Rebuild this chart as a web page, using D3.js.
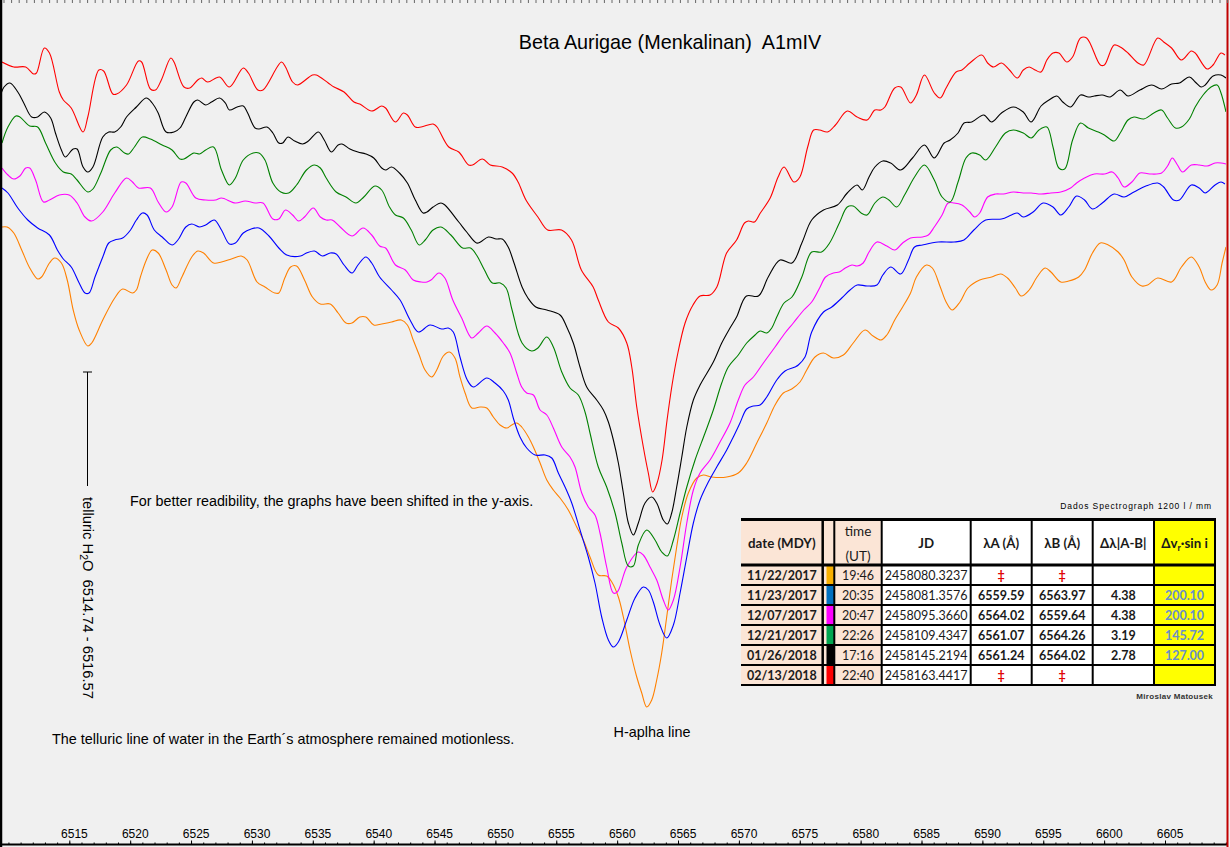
<!DOCTYPE html>
<html><head><meta charset="utf-8">
<script src="https://cdn.jsdelivr.net/npm/d3@7"></script>
<style>body{margin:0;background:#f0f0f0;overflow:hidden}svg{display:block}</style>
</head><body>
<svg id="chart" width="1230" height="847"></svg>
<script>
// ---- spectra: [wavelength (Å), relative flux (shifted)] ----
const s20180213 = [[6509.47,.838],[6510.44,.833],[6511.42,.833],[6512.07,.826],[6512.30,.827],[6512.95,.852],[6513.37,.847],[6514.18,.808],[6514.51,.800],[6515.16,.792],[6516.13,.768],[6516.52,.783],[6517.43,.830],[6517.82,.829],[6518.57,.806],[6518.89,.806],[6519.70,.815],[6520.68,.839],[6520.94,.838],[6521.66,.811],[6522.08,.810],[6522.56,.820],[6523.34,.842],[6523.60,.838],[6524.42,.813],[6524.90,.812],[6525.55,.820],[6525.88,.822],[6526.36,.818],[6527.34,.823],[6528.15,.813],[6529.29,.832],[6529.71,.827],[6530.49,.810],[6530.91,.810],[6532.43,.838],[6532.76,.833],[6533.34,.818],[6533.74,.815],[6534.97,.825],[6535.29,.825],[6536.27,.817],[6536.75,.813],[6537.57,.808],[6538.38,.798],[6538.86,.796],[6539.84,.789],[6540.66,.794],[6540.98,.792],[6541.79,.778],[6542.44,.787],[6542.77,.785],[6543.42,.773],[6543.90,.773],[6544.88,.776],[6545.20,.773],[6546.17,.753],[6546.99,.748],[6547.80,.735],[6548.12,.735],[6548.93,.741],[6549.58,.735],[6550.56,.733],[6551.37,.727],[6551.86,.718],[6552.51,.700],[6553.49,.683],[6554.29,.670],[6555.43,.670],[6556.25,.660],[6557.06,.630],[6558.03,.613],[6558.45,.600],[6559.28,.578],[6560.10,.572],[6560.79,.557],[6561.20,.533],[6561.61,.493],[6562.15,.453],[6562.56,.427],[6562.92,.408],[6563.28,.417],[6563.69,.440],[6564.10,.480],[6564.51,.515],[6564.92,.543],[6565.58,.577],[6566.23,.595],[6566.81,.604],[6567.63,.605],[6568.19,.613],[6568.99,.647],[6569.81,.660],[6570.46,.677],[6570.78,.679],[6571.27,.678],[6571.76,.687],[6572.57,.702],[6573.22,.723],[6573.71,.733],[6574.52,.718],[6575.01,.723],[6575.65,.753],[6576.14,.770],[6576.63,.770],[6577.28,.768],[6577.93,.775],[6578.90,.789],[6579.71,.783],[6580.53,.780],[6581.17,.790],[6581.67,.790],[6581.99,.793],[6582.80,.812],[6583.29,.813],[6584.10,.797],[6584.58,.805],[6585.24,.825],[6586.05,.807],[6586.54,.802],[6587.02,.812],[6587.84,.828],[6588.32,.830],[6588.97,.837],[6589.95,.845],[6590.43,.837],[6590.92,.833],[6591.57,.837],[6592.22,.830],[6592.87,.822],[6593.36,.830],[6593.84,.833],[6594.33,.830],[6594.82,.828],[6595.30,.840],[6595.80,.847],[6596.28,.847],[6596.93,.838],[6597.41,.843],[6598.06,.862],[6598.56,.862],[6599.69,.835],[6600.02,.835],[6600.82,.855],[6601.32,.853],[6601.96,.847],[6602.78,.837],[6603.26,.835],[6604.40,.862],[6604.89,.858],[6605.54,.852],[6606.35,.840],[6607.16,.849],[6607.48,.847],[6608.46,.831],[6608.95,.835],[6609.60,.847],[6609.92,.845]];

const s20180126 = [[6509.31,.803],[6509.64,.813],[6510.12,.817],[6510.77,.808],[6511.26,.797],[6511.91,.783],[6512.40,.783],[6512.95,.788],[6513.47,.782],[6513.86,.767],[6514.35,.750],[6514.67,.743],[6515.32,.751],[6515.64,.751],[6516.13,.733],[6516.52,.728],[6516.94,.733],[6517.75,.763],[6518.24,.768],[6518.73,.768],[6519.22,.773],[6519.70,.783],[6520.51,.793],[6521.33,.802],[6521.81,.797],[6522.30,.787],[6522.95,.768],[6523.60,.768],[6524.09,.772],[6524.57,.783],[6525.23,.798],[6525.55,.800],[6526.20,.795],[6526.68,.798],[6527.34,.802],[6527.82,.797],[6528.15,.790],[6528.79,.793],[6529.29,.794],[6529.61,.788],[6530.26,.772],[6530.58,.771],[6531.23,.773],[6531.72,.767],[6532.21,.757],[6532.53,.757],[6532.96,.763],[6533.51,.759],[6534.16,.756],[6534.64,.759],[6535.46,.768],[6535.94,.760],[6536.53,.748],[6537.08,.755],[6537.40,.756],[6538.05,.751],[6538.71,.748],[6539.36,.746],[6540.01,.742],[6540.66,.732],[6540.98,.730],[6541.47,.733],[6542.12,.727],[6542.77,.717],[6543.42,.700],[6544.06,.687],[6544.38,.688],[6544.88,.693],[6545.53,.697],[6545.85,.695],[6546.99,.678],[6547.64,.668],[6548.45,.657],[6548.77,.658],[6549.42,.663],[6550.07,.661],[6550.56,.661],[6551.05,.653],[6551.53,.637],[6552.19,.613],[6552.67,.602],[6553.32,.593],[6554.22,.590],[6555.31,.585],[6555.86,.573],[6556.40,.557],[6556.95,.533],[6557.50,.513],[6558.32,.500],[6558.87,.490],[6559.28,.478],[6559.69,.460],[6560.10,.437],[6560.51,.407],[6560.92,.377],[6561.33,.365],[6561.74,.377],[6562.29,.397],[6562.84,.403],[6563.25,.397],[6563.79,.380],[6564.12,.376],[6564.48,.387],[6564.89,.413],[6565.31,.443],[6565.72,.473],[6566.26,.500],[6566.81,.515],[6567.90,.538],[6568.59,.557],[6569.27,.572],[6569.81,.583],[6570.62,.604],[6571.60,.604],[6572.41,.623],[6573.38,.640],[6574.36,.637],[6575.17,.657],[6575.98,.680],[6576.95,.690],[6578.09,.695],[6578.90,.707],[6579.71,.715],[6580.14,.710],[6580.69,.723],[6581.17,.733],[6581.82,.739],[6582.47,.737],[6583.29,.730],[6584.26,.742],[6585.24,.755],[6586.05,.742],[6586.86,.757],[6587.35,.760],[6588.00,.767],[6588.49,.777],[6589.13,.778],[6590.11,.785],[6590.76,.778],[6591.57,.787],[6592.54,.793],[6593.36,.788],[6594.01,.778],[6594.82,.794],[6595.47,.800],[6596.12,.804],[6596.60,.798],[6597.25,.793],[6598.06,.805],[6598.71,.803],[6599.20,.804],[6599.85,.805],[6600.50,.803],[6601.32,.810],[6601.96,.804],[6602.94,.810],[6603.91,.815],[6604.72,.811],[6605.54,.816],[6606.19,.817],[6607.00,.823],[6607.48,.818],[6607.97,.813],[6608.30,.815],[6608.95,.824],[6609.60,.825],[6610.01,.822]];

const s20171221 = [[6509.47,.757],[6509.96,.773],[6510.61,.784],[6510.94,.783],[6511.75,.774],[6512.40,.773],[6513.05,.757],[6513.86,.737],[6514.51,.728],[6515.16,.726],[6515.64,.720],[6516.52,.708],[6516.94,.711],[6517.59,.727],[6518.40,.750],[6518.89,.753],[6519.54,.747],[6519.87,.746],[6520.35,.753],[6521.00,.763],[6521.66,.761],[6522.63,.755],[6523.44,.750],[6524.09,.741],[6524.42,.741],[6525.23,.747],[6525.71,.746],[6526.20,.750],[6526.85,.753],[6527.50,.730],[6528.15,.715],[6528.64,.722],[6529.29,.740],[6530.10,.747],[6530.58,.747],[6531.07,.740],[6531.72,.717],[6532.37,.708],[6533.02,.707],[6533.67,.715],[6534.48,.730],[6535.14,.735],[6535.62,.732],[6536.10,.722],[6536.92,.708],[6537.73,.703],[6538.54,.697],[6539.19,.703],[6540.10,.714],[6540.66,.710],[6541.30,.693],[6541.79,.685],[6542.44,.682],[6543.09,.670],[6543.74,.655],[6544.23,.660],[6544.88,.670],[6545.53,.673],[6546.34,.665],[6547.31,.652],[6547.96,.652],[6548.45,.645],[6549.10,.630],[6549.75,.617],[6550.40,.617],[6550.88,.612],[6551.37,.590],[6552.19,.557],[6552.98,.549],[6553.49,.552],[6554.22,.563],[6554.76,.553],[6555.45,.528],[6556.13,.512],[6556.81,.505],[6557.36,.488],[6557.77,.467],[6558.45,.433],[6559.14,.413],[6559.83,.387],[6560.38,.357],[6560.92,.334],[6561.33,.334],[6561.74,.355],[6562.43,.370],[6563.11,.360],[6563.66,.348],[6564.12,.344],[6564.62,.360],[6565.17,.387],[6565.72,.413],[6566.40,.440],[6567.22,.467],[6567.90,.490],[6568.59,.517],[6569.13,.533],[6569.95,.545],[6570.64,.557],[6571.33,.565],[6571.74,.569],[6572.29,.567],[6572.70,.572],[6573.11,.583],[6573.71,.597],[6574.36,.603],[6575.17,.623],[6575.98,.648],[6576.79,.648],[6577.45,.657],[6578.25,.677],[6578.90,.693],[6579.39,.694],[6580.04,.687],[6580.53,.685],[6581.17,.697],[6581.82,.703],[6582.32,.700],[6582.97,.693],[6583.61,.705],[6584.43,.723],[6585.24,.735],[6586.05,.720],[6586.69,.703],[6587.35,.698],[6588.00,.718],[6588.65,.742],[6589.13,.747],[6589.78,.745],[6590.27,.740],[6591.08,.753],[6591.89,.767],[6592.54,.770],[6593.36,.767],[6594.01,.762],[6594.65,.770],[6595.30,.773],[6595.80,.753],[6596.28,.732],[6596.76,.731],[6597.41,.760],[6598.06,.777],[6598.71,.772],[6599.52,.768],[6600.02,.765],[6600.82,.759],[6601.32,.767],[6601.96,.780],[6602.45,.783],[6603.26,.781],[6604.08,.787],[6604.72,.790],[6605.21,.782],[6605.86,.772],[6606.35,.773],[6607.00,.781],[6607.48,.793],[6608.13,.805],[6608.78,.813],[6609.28,.815],[6609.60,.807],[6610.01,.788]];

const s20171207 = [[6509.47,.732],[6509.96,.725],[6510.44,.721],[6510.94,.724],[6511.42,.732],[6511.75,.732],[6512.23,.720],[6512.88,.698],[6513.37,.700],[6514.18,.705],[6514.99,.705],[6515.64,.697],[6516.29,.683],[6516.84,.679],[6517.75,.688],[6518.73,.707],[6519.70,.722],[6520.19,.718],[6520.68,.712],[6521.66,.712],[6522.30,.698],[6522.95,.688],[6523.44,.693],[6524.19,.718],[6524.57,.717],[6525.39,.702],[6526.20,.700],[6527.01,.700],[6527.50,.702],[6528.64,.697],[6529.45,.699],[6530.26,.697],[6530.91,.697],[6531.72,.681],[6532.21,.681],[6532.76,.690],[6533.34,.685],[6533.83,.679],[6534.32,.683],[6535.04,.692],[6535.62,.683],[6536.10,.680],[6536.59,.680],[6537.25,.673],[6538.22,.664],[6539.13,.672],[6539.84,.665],[6540.49,.654],[6540.98,.652],[6541.79,.635],[6542.60,.630],[6543.25,.620],[6543.90,.618],[6544.38,.618],[6544.71,.620],[6545.36,.627],[6545.85,.622],[6546.50,.600],[6547.23,.582],[6548.06,.562],[6548.60,.567],[6549.29,.574],[6549.97,.567],[6550.65,.557],[6551.20,.547],[6551.75,.527],[6552.16,.513],[6552.57,.507],[6553.12,.505],[6553.67,.490],[6554.22,.485],[6554.76,.472],[6555.45,.453],[6556.13,.443],[6556.54,.433],[6557.09,.407],[6557.63,.393],[6558.18,.385],[6558.59,.367],[6559.14,.333],[6559.69,.307],[6560.01,.308],[6560.79,.333],[6561.74,.348],[6562.15,.345],[6562.70,.333],[6563.25,.320],[6563.79,.300],[6564.20,.290],[6564.62,.300],[6565.17,.333],[6565.72,.377],[6566.26,.410],[6566.81,.427],[6567.63,.440],[6568.45,.458],[6569.27,.477],[6569.95,.500],[6570.50,.515],[6571.19,.523],[6572.01,.537],[6572.97,.553],[6573.79,.567],[6574.47,.577],[6575.33,.590],[6575.98,.598],[6576.63,.612],[6577.12,.623],[6577.77,.627],[6578.25,.628],[6578.74,.632],[6579.29,.635],[6579.71,.634],[6580.21,.637],[6580.69,.648],[6581.34,.658],[6582.15,.654],[6582.80,.650],[6583.45,.657],[6584.10,.662],[6585.08,.663],[6585.56,.665],[6586.05,.673],[6586.69,.685],[6587.19,.697],[6587.67,.697],[6588.32,.695],[6588.97,.688],[6589.36,.683],[6589.78,.687],[6590.43,.703],[6591.08,.706],[6591.73,.706],[6592.54,.708],[6593.36,.707],[6594.01,.707],[6594.82,.706],[6595.63,.707],[6596.44,.708],[6597.25,.712],[6597.74,.717],[6598.39,.722],[6599.20,.726],[6600.02,.726],[6600.67,.728],[6601.15,.722],[6601.64,.713],[6602.28,.718],[6602.94,.727],[6603.75,.726],[6604.72,.727],[6605.21,.734],[6605.60,.742],[6606.02,.735],[6606.45,.728],[6607.16,.735],[6607.81,.735],[6608.46,.734],[6609.11,.737],[6609.60,.737],[6610.01,.736]];

const s20171123 = [[6509.47,.712],[6509.96,.707],[6510.77,.692],[6511.59,.680],[6512.40,.672],[6513.37,.665],[6514.02,.650],[6514.51,.641],[6515.16,.633],[6515.81,.617],[6516.29,.607],[6516.62,.607],[6517.11,.623],[6517.75,.643],[6518.24,.657],[6518.73,.660],[6519.38,.662],[6520.03,.670],[6520.51,.680],[6521.00,.687],[6521.39,.685],[6521.98,.670],[6522.63,.663],[6523.44,.655],[6523.92,.660],[6524.57,.673],[6525.06,.676],[6525.71,.673],[6526.20,.675],[6526.91,.680],[6527.50,.670],[6528.15,.656],[6528.64,.657],[6529.29,.667],[6529.94,.671],[6530.58,.672],[6531.40,.664],[6532.21,.652],[6532.86,.645],[6533.99,.644],[6534.48,.647],[6535.14,.649],[6535.78,.644],[6536.43,.647],[6536.92,.646],[6537.57,.635],[6538.22,.627],[6538.71,.635],[6539.36,.643],[6539.84,.637],[6540.49,.623],[6541.47,.610],[6542.17,.600],[6542.99,.580],[6543.67,.568],[6544.63,.575],[6545.59,.571],[6546.13,.572],[6546.54,.568],[6547.09,.543],[6547.69,.520],[6548.19,.513],[6549.29,.522],[6549.97,.517],[6550.65,.509],[6551.06,.500],[6551.47,.482],[6552.02,.463],[6552.57,.452],[6553.26,.445],[6554.08,.445],[6554.63,.442],[6555.17,.427],[6555.72,.413],[6556.27,.397],[6556.95,.370],[6557.63,.343],[6558.18,.317],[6558.73,.283],[6559.28,.260],[6559.69,.253],[6560.10,.258],[6560.79,.280],[6561.47,.302],[6562.15,.313],[6562.56,.310],[6562.97,.298],[6563.52,.275],[6564.07,.262],[6564.62,.275],[6565.17,.307],[6565.72,.343],[6566.26,.377],[6566.81,.400],[6567.49,.418],[6568.18,.433],[6569.00,.450],[6569.54,.463],[6570.09,.477],[6570.64,.491],[6571.19,.494],[6571.74,.495],[6572.29,.503],[6573.11,.520],[6573.79,.529],[6574.61,.533],[6574.88,.535],[6575.43,.543],[6575.98,.568],[6576.95,.588],[6577.63,.593],[6578.45,.602],[6579.13,.610],[6579.71,.615],[6580.53,.614],[6581.34,.615],[6581.82,.625],[6582.47,.633],[6583.29,.626],[6583.93,.640],[6584.43,.653],[6585.08,.655],[6586.37,.658],[6587.67,.658],[6588.49,.660],[6589.30,.670],[6590.27,.680],[6591.57,.681],[6592.39,.685],[6592.87,.687],[6593.36,.683],[6594.17,.688],[6594.98,.697],[6595.80,.693],[6596.44,.685],[6597.09,.693],[6597.74,.704],[6598.39,.700],[6599.04,.691],[6599.85,.697],[6600.82,.706],[6601.64,.703],[6602.45,.708],[6603.43,.714],[6604.40,.717],[6604.89,.713],[6605.70,.700],[6606.19,.700],[6607.16,.715],[6607.81,.712],[6608.30,.707],[6609.11,.715],[6609.60,.718],[6609.92,.716]];

const s20171122 = [[6509.47,.673],[6509.89,.673],[6510.44,.667],[6511.09,.650],[6511.75,.632],[6512.40,.621],[6512.72,.623],[6513.37,.637],[6513.80,.642],[6514.35,.637],[6514.83,.620],[6515.32,.590],[6515.81,.570],[6516.52,.554],[6516.84,.557],[6517.75,.580],[6518.73,.602],[6519.38,.611],[6520.19,.607],[6520.51,.610],[6520.84,.623],[6521.33,.640],[6521.81,.650],[6522.30,.647],[6522.95,.630],[6523.44,.615],[6523.77,.612],[6524.25,.623],[6525.06,.643],[6525.55,.649],[6526.03,.647],[6526.85,.637],[6527.50,.638],[6528.31,.641],[6529.12,.644],[6529.61,.640],[6530.42,.618],[6531.07,.613],[6531.88,.607],[6532.21,.607],[6532.70,.622],[6533.18,.633],[6533.67,.634],[6534.32,.620],[6534.97,.603],[6535.62,.596],[6536.43,.596],[6537.08,.587],[6537.73,.577],[6538.22,.577],[6538.86,.583],[6539.36,.583],[6540.01,.575],[6540.66,.576],[6541.47,.578],[6542.27,.580],[6542.77,.575],[6543.25,.560],[6543.74,.545],[6544.22,.530],[6544.77,.523],[6545.18,.530],[6545.72,.544],[6546.22,.548],[6546.68,.542],[6547.09,.523],[6547.51,.507],[6548.06,.492],[6548.74,.493],[6549.29,.492],[6549.83,.483],[6550.38,.475],[6550.93,.472],[6551.34,.475],[6551.75,.477],[6552.16,.473],[6552.71,.463],[6553.12,.453],[6553.67,.437],[6554.22,.420],[6554.76,.410],[6555.31,.402],[6555.99,.390],[6556.68,.373],[6557.22,.360],[6557.77,.343],[6558.45,.325],[6559.14,.324],[6559.56,.318],[6560.10,.303],[6560.51,.283],[6561.06,.250],[6561.61,.223],[6562.02,.207],[6562.43,.193],[6562.84,.200],[6563.25,.220],[6563.66,.247],[6564.07,.283],[6564.48,.320],[6564.89,.353],[6565.31,.383],[6565.85,.407],[6566.54,.422],[6567.08,.425],[6567.77,.423],[6569.00,.423],[6569.95,.427],[6570.64,.437],[6571.47,.457],[6572.29,.477],[6572.97,.495],[6573.65,.507],[6574.34,.511],[6575.02,.518],[6575.57,.530],[6576.25,.543],[6576.95,.547],[6577.77,.542],[6578.58,.545],[6579.39,.557],[6580.36,.570],[6581.02,.564],[6581.67,.560],[6582.15,.565],[6582.80,.580],[6583.45,.593],[6584.10,.607],[6584.58,.623],[6585.40,.635],[6585.89,.632],[6586.54,.613],[6587.02,.598],[6587.51,.590],[6588.16,.598],[6588.81,.612],[6589.78,.620],[6590.76,.623],[6591.51,.626],[6592.06,.622],[6592.71,.612],[6593.19,.604],[6593.84,.610],[6594.49,.623],[6595.15,.632],[6595.63,.628],[6596.44,.618],[6597.09,.619],[6597.91,.623],[6598.39,.630],[6599.04,.647],[6599.69,.657],[6600.34,.655],[6601.15,.648],[6601.64,.640],[6602.28,.623],[6603.10,.614],[6603.58,.615],[6604.40,.622],[6605.54,.618],[6606.35,.633],[6607.16,.643],[6607.81,.633],[6608.30,.618],[6608.78,.610],[6609.28,.615],[6609.69,.637],[6610.01,.653]];

// ---- drawing order & colours ----
const seriesData = [s20171122, s20171123, s20171207, s20171221, s20180126, s20180213];
const seriesColors = ["#ff8000", "#0000ff", "#ff00ff", "#008000", "#000000", "#ff0000"];

// ---- axis ticks ----
const majorTicks = [6515,6520,6525,6530,6535,6540,6545,6550,6555,6560,6565,6570,6575,6580,6585,6590,6595,6600,6605];
const minorTicks = d3.range(6509, 6611, 1);

// ---- table ----
const tDates = ["11/22/2017","11/23/2017","12/07/2017","12/21/2017","01/26/2018","02/13/2018"];
const tSwatch = ["#f8b000","#0070c0","#ff00ff","#00a650","#000000","#ff0000"];
const tTimes = ["19:46","20:35","20:47","22:26","17:16","22:40"];
const tJD = ["2458080.3237","2458081.3576","2458095.3660","2458109.4347","2458145.2194","2458163.4417"];
const tLamA = ["‡","6559.59","6564.02","6561.07","6561.24","‡"];
const tLamB = ["‡","6563.97","6559.64","6564.26","6564.02","‡"];
const tDLam = ["","4.38","4.38","3.19","2.78",""];
const tDV = ["","200.10","200.10","145.72","127.00",""];

const svg = d3.select("#chart");
const W = 1230, H = 847;
svg.append("rect").attr("width", W).attr("height", H).attr("fill", "#f0f0f0");

const x = d3.scaleLinear().domain([6515, 6605]).range([69.3, 1165]);
const y = d3.scaleLinear().domain([0, 0.9]).range([900, 0]);

svg.append("defs").append("clipPath").attr("id","plotclip")
  .append("rect").attr("x", 2).attr("y", 0).attr("width", 1224).attr("height", H);

const line = d3.line().x(d => x(d[0])).y(d => y(d[1])).curve(d3.curveCatmullRom.alpha(0.5));
svg.append("g").attr("clip-path","url(#plotclip)")
  .selectAll("path").data(seriesData).join("path")
  .attr("d", line).attr("fill","none")
  .attr("stroke", (d,i) => seriesColors[i]).attr("stroke-width", 1.1);

// bottom axis
const axisY = 844.5;
svg.append("g").attr("transform", `translate(0,${axisY})`)
  .call(d3.axisTop(x).tickValues(minorTicks).tickSize(2).tickFormat("").tickSizeOuter(0))
  .call(g => g.select(".domain").remove())
  .call(g => g.selectAll("line").attr("stroke","#000"));
const ax = svg.append("g").attr("transform", `translate(0,${axisY})`)
  .call(d3.axisTop(x).tickValues(majorTicks).tickSize(4).tickPadding(2.5).tickFormat(d3.format("d")).tickSizeOuter(0));
ax.select(".domain").remove();
ax.selectAll("line").attr("stroke","#000");
ax.selectAll("text").attr("dx", 4.6).attr("font-family","'Liberation Sans', Arial, sans-serif")
  .attr("font-size", 12).attr("fill","#000");
svg.append("line").attr("x1",0).attr("x2",1228).attr("y1",axisY).attr("y2",axisY)
  .attr("stroke","#000").attr("stroke-width",2);

// frame
svg.append("line").attr("x1",1).attr("x2",1).attr("y1",0).attr("y2",H).attr("stroke","#000").attr("stroke-width",2.5);
svg.append("line").attr("x1",1227.5).attr("x2",1227.5).attr("y1",0).attr("y2",H).attr("stroke","#c00000").attr("stroke-width",2);
svg.append("g").selectAll("line").data(d3.range(0, 1226, 7.6)).join("line")
  .attr("x1", d => d + 4).attr("x2", d => d + 4).attr("y1", 0).attr("y2", 3)
  .attr("stroke","#666").attr("stroke-width",1);

// texts
const sans = "'Liberation Sans', Arial, sans-serif";
svg.append("text").attr("x", 670).attr("y", 49).attr("text-anchor","middle")
  .attr("font-family", sans).attr("font-size", 19.8).attr("fill","#000")
  .attr("xml:space","preserve").text("Beta Aurigae (Menkalinan)  A1mIV");
svg.append("text").attr("x", 130).attr("y", 506).attr("font-family", sans).attr("font-size", 14.35)
  .attr("fill","#000").text("For better readibility, the graphs have been shifted in the y-axis.");
svg.append("text").attr("x", 52).attr("y", 744).attr("font-family", sans).attr("font-size", 14.4)
  .attr("fill","#000").text("The telluric line of water in the Earth´s atmosphere remained motionless.");
svg.append("text").attr("x", 652).attr("y", 737).attr("text-anchor","middle").attr("font-family", sans)
  .attr("font-size", 14.4).attr("fill","#000").text("H-aplha line");

// telluric marker
svg.append("line").attr("x1",87.5).attr("x2",87.5).attr("y1",372).attr("y2",486).attr("stroke","#000").attr("stroke-width",1);
svg.append("line").attr("x1",83).attr("x2",92).attr("y1",372).attr("y2",372).attr("stroke","#000").attr("stroke-width",1);
const vt = svg.append("text").attr("transform","translate(83,497) rotate(90)")
  .attr("font-family", sans).attr("font-size", 14.7).attr("fill","#000").attr("xml:space","preserve");
vt.append("tspan").text("telluric H");
vt.append("tspan").attr("font-size", 10.5).attr("dy", 3).text("2");
vt.append("tspan").attr("dy", -3).text("O  6514.74 - 6516.57");

// table
const colX = [741, 822.7, 834.3, 881.7, 970.7, 1031.7, 1092.7, 1154, 1215];
const headTop = 519.5, headBot = 565, rowH = 20;
const peach = "#fbe5d6", yellow = "#ffff00", white = "#ffffff";
const colFill = [peach, peach, peach, white, white, white, white, yellow];
const tg = svg.append("g");
const nRows = tDates.length;
const tableBot = headBot + nRows*rowH;
tg.selectAll("rect.col").data(colFill).join("rect")
  .attr("x", (d,i) => colX[i]).attr("y", headTop).attr("width", (d,i) => colX[i+1]-colX[i])
  .attr("height", tableBot - headTop).attr("fill", d => d);
// swatches
tg.selectAll("rect.sw").data(tSwatch).join("rect")
  .attr("x", 826.5).attr("y", (d,i) => headBot + i*rowH + 1).attr("width", 7.8).attr("height", rowH - 1)
  .attr("fill", d => d);
// horizontal lines
const hl = [headTop, headBot].concat(d3.range(1, nRows+1).map(i => headBot + i*rowH));
tg.selectAll("line.h").data(hl).join("line")
  .attr("x1", colX[0]).attr("x2", colX[colX.length-1]+1).attr("y1", d => d).attr("y2", d => d)
  .attr("stroke","#000").attr("stroke-width", (d,i) => i < 2 ? 3 : 2);
// vertical lines
tg.selectAll("line.v").data(colX.slice(1)).join("line")
  .attr("x1", d => d).attr("x2", d => d).attr("y1", headTop).attr("y2", tableBot)
  .attr("stroke","#000").attr("stroke-width", (d,i) => i === 0 ? 2.5 : 2);

const tfont = "Lato, 'Open Sans', sans-serif";
const cx = i => (colX[i] + colX[i+1]) / 2;
function cell(txt, xc, yb, opts = {}) {
  const t = tg.append("text").attr("x", xc).attr("y", yb).attr("text-anchor","middle")
    .attr("font-family", tfont).attr("font-size", opts.size || 12.5)
    .attr("font-weight", opts.bold ? 700 : 400).attr("fill", opts.fill || "#1a1a1a");
  t.text(txt);
  return t;
}
const hb = 548;
cell("date (MDY)", cx(0), hb, {bold:true, size:13.3});
cell("time", cx(2), 536, {size:13.5});
cell("(UT)", cx(2), 561, {size:13.5});
cell("JD", cx(3), hb, {bold:true, size:13.3});
cell("λA (Å)", cx(4), hb, {bold:true, size:13.3});
cell("λB (Å)", cx(5), hb, {bold:true, size:13.3});
cell("Δλ|A-B|", cx(6), hb, {bold:true, size:13.3});
const dvh = cell("", cx(7), hb, {bold:true, size:13.3});
dvh.append("tspan").text("Δv");
dvh.append("tspan").attr("font-size", 9).attr("dy", 3).text("r");
dvh.append("tspan").attr("dy", -3).text("·sin i");

tDates.forEach((d, i) => {
  const yb = headBot + i*rowH + 14.5;
  cell(d, cx(0), yb, {bold:true});
  cell(tTimes[i], cx(2), yb);
  cell(tJD[i], cx(3), yb);
  cell(tLamA[i], cx(4), yb, {bold:true, fill: tLamA[i] === "‡" ? "#e00000" : "#1a1a1a"});
  cell(tLamB[i], cx(5), yb, {bold:true, fill: tLamB[i] === "‡" ? "#e00000" : "#1a1a1a"});
  cell(tDLam[i], cx(6), yb, {bold:true});
  cell(tDV[i], cx(7), yb, {bold:true, fill:"#6a8fc8"});
});

svg.append("text").attr("x", 1212).attr("y", 509).attr("text-anchor","end")
  .attr("font-family", sans).attr("font-size", 8.5).attr("letter-spacing", 0.9)
  .attr("fill","#000").text("Dados Spectrograph 1200 l / mm");
svg.append("text").attr("x", 1213).attr("y", 699).attr("text-anchor","end")
  .attr("font-family", sans).attr("font-size", 8).attr("font-weight", 700).attr("letter-spacing", 0.3)
  .attr("fill","#333").text("Miroslav Matousek");
</script>
</body></html>
